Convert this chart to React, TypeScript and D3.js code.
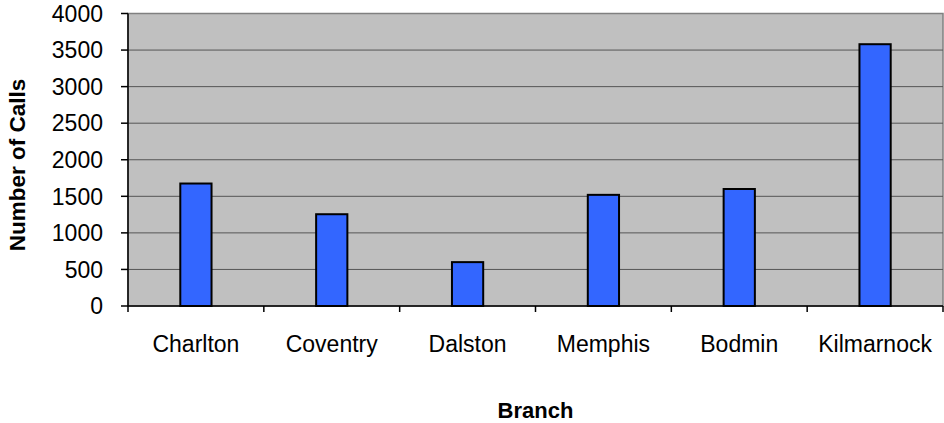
import * as d3 from "d3";

const branches = ["Charlton", "Coventry", "Dalston", "Memphis", "Bodmin", "Kilmarnock"];
const calls = [1675, 1255, 600, 1520, 1600, 3580];
const yTicks = [0, 500, 1000, 1500, 2000, 2500, 3000, 3500, 4000];

export default function App({
  width = 944,
  height = 423,
  marginTop = 13.5,
  marginRight = 1,
  marginBottom = 117,
  marginLeft = 128,
}) {
  const x = d3.scaleBand(branches, [marginLeft, width - marginRight]);
  const y = d3.scaleLinear([0, 4000], [height - marginBottom, marginTop]);
  const barW = x.bandwidth() * 0.23;
  const font = "Arial, 'Liberation Sans', sans-serif";
  const y0 = y(0);

  return (
    <svg
      width={width}
      height={height}
      style={{ position: "absolute", left: 0, top: 0, background: "white" }}
      fontFamily={font}
    >
      <rect
        x={marginLeft}
        y={marginTop}
        width={width - marginRight - marginLeft}
        height={y0 - marginTop}
        fill="#C0C0C0"
        stroke="#808080"
        strokeWidth={1.5}
      />
      {/* gridlines */}
      <g stroke="#555" strokeWidth={1}>
        {yTicks.slice(1, -1).map((t) => (
          <line key={t} x1={marginLeft} x2={width - marginRight} y1={y(t)} y2={y(t)} />
        ))}
      </g>
      {/* bars */}
      <g fill="#3366FF" stroke="#000" strokeWidth={2}>
        {calls.map((d, i) => (
          <rect
            key={branches[i]}
            x={x(branches[i])! + (x.bandwidth() - barW) / 2}
            y={y(d)}
            width={barW}
            height={y0 - y(d)}
          />
        ))}
      </g>
      {/* axes */}
      <g stroke="#000" strokeWidth={1.5}>
        <line x1={marginLeft} x2={marginLeft} y1={marginTop} y2={y0} />
        <line x1={marginLeft} x2={width - marginRight} y1={y0} y2={y0} />
        {yTicks.map((t) => (
          <line key={t} x1={marginLeft - 7} x2={marginLeft} y1={y(t)} y2={y(t)} />
        ))}
        {branches.map((b) => (
          <line key={b} x1={x(b)!} x2={x(b)!} y1={y0} y2={y0 + 6} />
        ))}
        <line x1={width - marginRight} x2={width - marginRight} y1={y0} y2={y0 + 6} />
      </g>
      <g fontSize={23} textAnchor="end" fill="#000">
        {yTicks.map((t) => (
          <text key={t} x={103} y={y(t)} dy="0.36em">
            {t}
          </text>
        ))}
      </g>
      <g fontSize={23} textAnchor="middle" fill="#000">
        {branches.map((b) => (
          <text key={b} x={x(b)! + x.bandwidth() / 2} y={352}>
            {b}
          </text>
        ))}
      </g>
      <text
        x={(marginLeft + width - marginRight) / 2}
        y={418}
        fontSize={22}
        fontWeight="bold"
        textAnchor="middle"
      >
        Branch
      </text>
      <text
        transform={`translate(25, 165) rotate(-90)`}
        fontSize={22.5}
        fontWeight="bold"
        textAnchor="middle"
      >
        Number of Calls
      </text>
    </svg>
  );
}
